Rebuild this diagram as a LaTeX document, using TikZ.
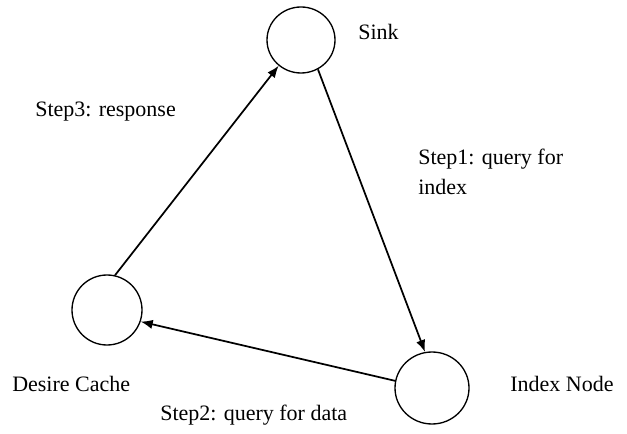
\documentclass[tikz,border=0pt]{standalone}
\usepackage{fontspec}
\setmainfont{Liberation Serif}
\usetikzlibrary{arrows.meta, shapes, positioning}

\begin{document}
\begin{tikzpicture}[x=0.75pt,y=-0.75pt,
  peer/.style={draw,ellipse,line width=1pt,inner sep=0pt},
  lbl/.style={anchor=base west,inner sep=0pt,font=\fontsize{16.5}{22.5}\selectfont},
  msg/.style={-{Latex[length=9pt,width=7pt]},line width=1.3pt}]
\useasboundingbox (0,0) rectangle (627,434);
% noeuds
\node[peer,minimum width=51pt,minimum height=49.5pt] (sink) at (301,40) {};
\node[peer,minimum width=55.5pt,minimum height=54pt] (index) at (432,388) {};
\node[peer,minimum width=52.5pt,minimum height=52.5pt] (cache) at (107,310) {};
\node[lbl] (sinklbl) at (358,40) {Sink};
\node[lbl] (indexlbl) at (510,391) {Index Node};
\node[lbl] (cachelbl) at (12,391) {Desire Cache};
% messages
\draw[msg] (sink.-60) -- (index.101);
\draw[msg] (index.169) -- (cache.-19);
\draw[msg] (cache.77) -- (sink.-131);
\node[lbl,align=left] (step1) at (418,195) {Step1: query for\\index};
\node[lbl] (step2) at (160,420) {Step2: query for data};
\node[lbl] (step3) at (35,117) {Step3: response};
\end{tikzpicture}
\end{document}
